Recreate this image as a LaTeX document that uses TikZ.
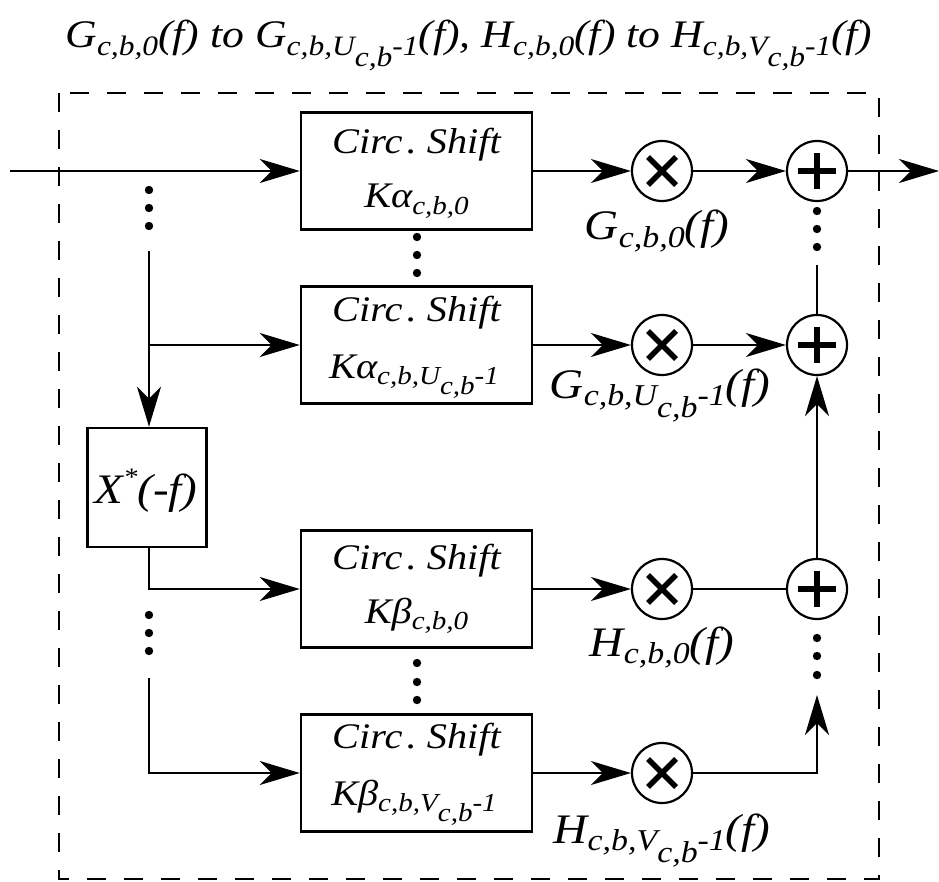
\documentclass[tikz,border=0pt]{standalone}
\usepackage{fontspec}
\setmainfont{Liberation Serif}
\newfontfamily\tms[FakeStretch=1.12]{Liberation Serif}
\usepackage{graphicx}
\usetikzlibrary{arrows.meta}
\newcommand\lo[1]{\raisebox{-0.18em}{\scalebox{0.72}{#1}}}
\newcommand\llo[1]{\raisebox{-0.4em}{#1}}
\newcommand\uidx{\lo{c,b,U\llo{c,b}-1}}
\newcommand\vidx{\lo{c,b,V\llo{c,b}-1}}
\newcommand\circtxt{Circ\hspace{0.12em}.\hspace{0.28em}Shift}
\begin{document}
\begin{tikzpicture}[x=1pt,y=-1pt,
  ln/.style={line width=2.3pt},
  arr/.style={line width=2.3pt,-{Stealth[length=40pt,width=24pt,inset=12pt]}},
  box/.style={draw, line width=2.5pt, minimum width=231pt, minimum height=117pt, inner sep=0pt},
  xbox/.style={draw, line width=2.5pt, minimum width=119pt, minimum height=119pt, inner sep=0pt},
  txt/.style={font=\fontsize{36}{40}\tms\itshape, inner sep=0pt, anchor=base},
  lab/.style={font=\fontsize{42}{48}\tms\itshape, inner sep=0pt, anchor=base},
  ttl/.style={font=\fontsize{39}{44}\tms\itshape, inner sep=0pt, anchor=base},
  mult/.style={circle, draw, line width=2.2pt, minimum size=60pt, inner sep=0pt,
    path picture={\draw[line width=5.5pt]
      ([xshift=-14pt,yshift=-14pt]path picture bounding box.center) -- ([xshift=14pt,yshift=14pt]path picture bounding box.center)
      ([xshift=-14pt,yshift=14pt]path picture bounding box.center) -- ([xshift=14pt,yshift=-14pt]path picture bounding box.center);}},
  plus/.style={circle, draw, line width=2.2pt, minimum size=60pt, inner sep=0pt,
    path picture={\draw[line width=6pt]
      ([xshift=-19pt]path picture bounding box.center) -- ([xshift=19pt]path picture bounding box.center)
      ([yshift=-18pt]path picture bounding box.center) -- ([yshift=18pt]path picture bounding box.center);}},
  dotf/.style={fill=black}
]
\useasboundingbox (0,0) rectangle (939,882);

% title
\node[ttl] (title) at (469,48) {G\lo{c,b,0}(f) to G\uidx(f), H\lo{c,b,0}(f) to H\vidx(f)};

% dashed frame
\draw[line width=2.2pt, dash pattern=on 19pt off 18pt] (59,93) rectangle (879,879);

% boxes
\node[box] (b1) at (416.5,171) {};
\node[box] (b2) at (416.5,345) {};
\node[box] (b3) at (416.5,589) {};
\node[box] (b4) at (416.5,773) {};
\node[xbox] (xb) at (147,487.5) {};

\node[txt] (t1a) at (416.5,154) {\circtxt};
\node[txt] (t1b) at (416.5,208) {Kα\lo{c,b,0}};
\node[txt] (t2a) at (416.5,322) {\circtxt};
\node[txt] (t2b) at (414,378) {Kα\uidx};
\node[txt] (t3a) at (416.5,569) {\circtxt};
\node[txt] (t3b) at (416.5,623) {Kβ\lo{c,b,0}};
\node[txt] (t4a) at (416.5,748) {\circtxt};
\node[txt] (t4b) at (414,805) {Kβ\vidx};
\node[lab] (xt) at (146,503) {X\raisebox{0.42em}{\scalebox{0.6}{*}}(-f)};

% multipliers and adders
\node[mult] (m1) at (662,171) {};
\node[mult] (m2) at (662,345) {};
\node[mult] (m3) at (662,589) {};
\node[mult] (m4) at (662,773) {};
\node[plus] (p1) at (817,171) {};
\node[plus] (p2) at (817,345) {};
\node[plus] (p3) at (817,589) {};

% labels
\node[lab] (g0) at (657,240) {G\lo{c,b,0}(f)};
\node[lab] (gu) at (660,398) {G\uidx(f)};
\node[lab] (h0) at (662,656) {H\lo{c,b,0}(f)};
\node[lab] (hv) at (662,843) {H\vidx(f)};

% coordinates
\coordinate (in) at (10,171);
\coordinate (out) at (939,171);
\coordinate (v1) at (149,251);
\coordinate (v2) at (149,678);
\coordinate (r1) at (817,265);
\coordinate (r2) at (817,695);

% input side
\draw[arr] (in) -- (b1.west);
\draw[arr] (v1) -- (v1 |- xb.north);
\draw[arr] (v1 |- b2.west) -- (b2.west);
\draw[arr] (xb.south -| v1) |- (b3.west);
\draw[arr] (v2) |- (b4.west);

% box to multiplier
\draw[arr] (b1.east) -- (m1.west);
\draw[arr] (b2.east) -- (m2.west);
\draw[arr] (b3.east) -- (m3.west);
\draw[arr] (b4.east) -- (m4.west);

% multiplier to adder
\draw[arr] (m1.east) -- (p1.west);
\draw[arr] (m2.east) -- (p2.west);
\draw[ln] (m3.east) -- (p3.west);
\draw[arr] (m4.east) -| (r2);
\draw[ln] (r1) -- (p2.north);
\draw[arr] (p3.north) -- (p2.south);
\draw[arr] (p1.east) -- (out);

% dots
\foreach \yy in {190,208,226,615,633,651} \fill[dotf] (149,\yy) circle (4.2pt);
\foreach \yy in {237,255,273,663,682,700} \fill[dotf] (417,\yy) circle (4.2pt);
\foreach \yy in {211,229,247,638,656,675} \fill[dotf] (817,\yy) circle (4.2pt);
\end{tikzpicture}
\end{document}
